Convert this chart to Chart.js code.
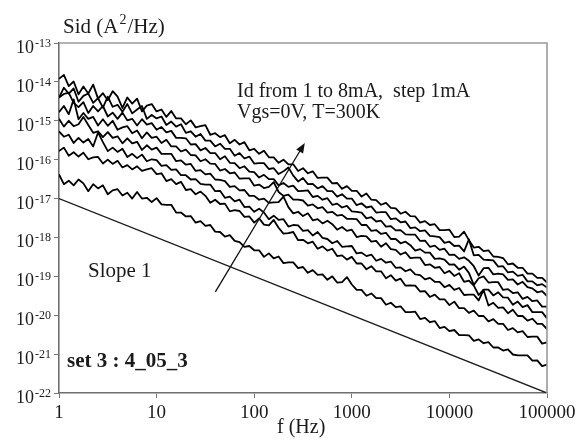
<!DOCTYPE html>
<html><head><meta charset="utf-8">
<script src="https://cdn.jsdelivr.net/npm/chart.js@4.4.1/dist/chart.umd.min.js"></script>
<style>html,body{margin:0;padding:0;background:#fff}canvas{display:block}</style>
</head><body>
<canvas id="c" width="583" height="443" style="width:583px;height:443px"></canvas>
<script>
// Frequency grid (Hz), 20 points per decade
const freqHz = [
1,1.122,1.259,1.413,1.585,1.778,1.995,2.239,2.512,2.818,3.162,3.548,3.981,4.467,5.012,5.623,6.31,7.079,7.943,8.913,
10,11.22,12.59,14.13,15.85,17.78,19.95,22.39,25.12,28.18,31.62,35.48,39.81,44.67,50.12,56.23,63.1,70.79,79.43,89.13,
100,112.2,125.9,141.3,158.5,177.8,199.5,223.9,251.2,281.8,316.2,354.8,398.1,446.7,501.2,562.3,631,707.9,794.3,891.3,
1000,1122,1259,1413,1585,1778,1995,2239,2512,2818,3162,3548,3981,4467,5012,5623,6310,7079,7943,8913,
10000,11220,12590,14130,15850,17780,19950,22390,25120,28180,31620,35480,39810,44670,50120,56230,63100,70790,79430,89130,
100000];

// log10 of Sid (A^2/Hz), one array per drain current
const log10Sid_8mA = [-13.92,-13.82,-14.11,-13.99,-14.32,-14.12,-14.30,-14.07,-14.43,-14.29,
-14.47,-14.24,-14.38,-14.67,-14.40,-14.56,-14.43,-14.76,-14.61,-14.57,
-14.76,-14.71,-14.90,-14.75,-14.94,-14.94,-15.09,-14.99,-15.17,-15.14,
-15.11,-15.36,-15.32,-15.42,-15.37,-15.58,-15.49,-15.61,-15.55,-15.76,
-15.72,-15.85,-15.77,-15.94,-15.94,-16.08,-16.00,-16.12,-16.12,-16.29,
-16.22,-16.35,-16.30,-16.47,-16.46,-16.46,-16.61,-16.60,-16.75,-16.68,
-16.80,-16.80,-16.95,-16.87,-17.03,-17.04,-17.16,-17.11,-17.24,-17.25,
-17.39,-17.34,-17.45,-17.46,-17.62,-17.58,-17.68,-17.66,-17.81,-17.81,
-17.80,-17.99,-17.98,-17.85,-18.07,-18.26,-18.24,-18.35,-18.33,-18.49,
-18.50,-18.53,-18.69,-18.67,-18.78,-18.78,-18.93,-18.93,-19.04,-19.04,
-19.16];
const log10Sid_7mA = [-14.41,-14.15,-14.30,-14.17,-14.51,-14.36,-14.30,-14.54,-14.42,-14.66,
-14.38,-14.64,-14.59,-14.77,-14.57,-14.81,-14.71,-14.62,-14.95,-14.85,
-14.94,-14.89,-15.11,-15.02,-15.15,-15.09,-15.31,-15.27,-15.41,-15.34,
-15.51,-15.51,-15.66,-15.59,-15.72,-15.72,-15.90,-15.83,-15.97,-15.92,
-16.10,-16.09,-16.09,-16.24,-16.22,-16.37,-16.30,-16.20,-16.41,-16.56,
-16.47,-16.63,-16.62,-16.74,-16.68,-16.81,-16.81,-16.95,-16.89,-17.00,
-17.00,-17.17,-17.12,-17.23,-17.20,-17.36,-17.35,-17.35,-17.53,-17.51,
-17.61,-17.59,-17.76,-17.74,-17.84,-17.82,-17.96,-17.97,-17.99,-18.14,
-18.11,-18.22,-18.21,-18.36,-18.05,-18.46,-18.45,-18.57,-18.58,-18.59,
-18.75,-18.74,-18.90,-18.88,-18.99,-18.96,-19.13,-19.13,-19.23,-19.20,
-19.29];
const log10Sid_6mA = [-14.40,-14.31,-14.28,-14.54,-14.65,-14.52,-14.80,-14.62,-14.76,-14.62,
-14.89,-14.79,-14.95,-14.79,-14.99,-14.95,-15.12,-14.96,-15.10,-15.06,
-15.23,-15.16,-15.30,-15.26,-15.44,-15.44,-15.45,-15.61,-15.60,-15.76,
-15.70,-15.83,-15.83,-15.99,-15.91,-16.08,-16.09,-16.22,-16.17,-16.31,
-16.32,-16.46,-16.39,-16.50,-16.50,-16.66,-16.60,-16.70,-16.67,-16.81,
-16.80,-16.79,-16.96,-16.93,-17.03,-16.99,-17.16,-17.13,-17.23,-17.19,
-17.33,-17.34,-17.36,-17.51,-17.48,-17.59,-17.57,-17.72,-17.71,-17.82,
-17.81,-17.92,-17.93,-17.93,-18.09,-18.08,-18.24,-18.21,-18.32,-18.29,
-18.45,-18.44,-18.55,-18.51,-18.60,-18.74,-18.98,-18.79,-18.78,-18.95,
-18.93,-18.95,-19.09,-19.08,-19.21,-19.14,-19.28,-19.31,-19.41,-19.38,
-19.51];
const log10Sid_5mA = [-14.78,-14.62,-14.83,-14.45,-14.96,-14.80,-14.95,-14.90,-15.12,-14.96,
-15.13,-15.00,-15.23,-15.17,-15.14,-15.32,-15.25,-15.45,-15.30,-15.44,
-15.41,-15.57,-15.49,-15.66,-15.66,-15.79,-15.74,-15.88,-15.89,-16.04,
-15.99,-16.10,-16.11,-16.28,-16.24,-16.35,-16.33,-16.49,-16.48,-16.48,
-16.67,-16.64,-16.73,-16.70,-16.58,-16.83,-16.93,-16.90,-17.03,-17.03,
-17.05,-17.18,-17.15,-17.25,-17.22,-17.36,-17.34,-17.44,-17.42,-17.52,
-17.52,-17.53,-17.68,-17.68,-17.83,-17.81,-17.91,-17.88,-18.04,-18.04,
-18.15,-18.11,-18.20,-18.34,-18.30,-18.39,-18.39,-18.55,-18.54,-18.57,
-18.70,-18.69,-18.83,-18.75,-18.91,-19.22,-19.05,-19.00,-19.16,-19.15,
-19.15,-19.35,-19.33,-19.43,-19.41,-19.58,-19.53,-19.64,-19.62,-19.78,
-19.78];
const log10Sid_4mA = [-14.95,-15.15,-15.00,-15.14,-15.09,-14.90,-15.11,-15.31,-15.27,-15.42,
-15.29,-15.44,-15.40,-15.58,-15.45,-15.58,-15.54,-15.75,-15.63,-15.74,
-15.69,-15.85,-15.85,-15.85,-16.04,-16.02,-16.13,-16.11,-16.29,-16.27,
-16.38,-16.36,-16.51,-16.52,-16.55,-16.70,-16.68,-16.79,-16.78,-16.93,
-16.93,-17.03,-17.00,-17.11,-17.10,-17.09,-16.95,-17.22,-17.38,-17.34,
-17.45,-17.38,-17.56,-17.53,-17.64,-17.57,-17.66,-17.80,-17.73,-17.83,
-17.80,-17.99,-17.96,-17.97,-18.11,-18.09,-18.24,-18.15,-18.30,-18.32,
-18.44,-18.38,-18.53,-18.52,-18.52,-18.71,-18.69,-18.78,-18.76,-18.92,
-18.86,-18.99,-18.92,-19.14,-19.11,-19.24,-19.48,-19.34,-19.34,-19.49,
-19.41,-19.54,-19.55,-19.73,-19.65,-19.79,-19.74,-19.92,-19.92,-19.92,
-20.08];
const log10Sid_3mA = [-15.27,-15.41,-15.36,-15.57,-15.44,-15.56,-15.47,-15.66,-15.30,-15.55,
-15.78,-15.69,-15.80,-15.72,-15.93,-15.85,-15.96,-15.87,-16.04,-15.99,
-16.01,-16.16,-16.14,-16.26,-16.25,-16.40,-16.40,-16.51,-16.50,-16.62,
-16.64,-16.64,-16.81,-16.80,-16.98,-16.95,-17.07,-17.03,-17.22,-17.21,
-17.34,-17.26,-17.36,-17.53,-17.44,-17.55,-17.53,-17.72,-17.68,-17.69,
-17.83,-17.81,-17.95,-17.86,-18.01,-18.04,-18.15,-18.09,-18.24,-18.23,
-18.22,-18.41,-18.39,-18.48,-18.44,-18.60,-18.55,-18.65,-18.62,-18.78,
-18.77,-18.87,-18.82,-18.95,-18.97,-19.08,-19.04,-19.14,-19.14,-19.28,
-19.22,-19.35,-19.30,-19.48,-19.47,-19.47,-19.62,-19.35,-19.75,-19.68,
-19.81,-19.80,-19.95,-19.86,-20.02,-20.02,-20.14,-20.09,-20.22,-20.22,
-20.36];
const log10Sid_2mA = [-15.78,-15.69,-15.90,-15.81,-15.92,-15.82,-15.99,-15.94,-15.93,-16.10,
-16.00,-16.11,-16.03,-16.20,-16.14,-16.25,-16.17,-16.29,-16.25,-16.22,
-16.37,-16.35,-16.55,-16.50,-16.63,-16.57,-16.78,-16.76,-16.89,-16.82,
-16.93,-17.11,-17.03,-17.14,-17.13,-17.33,-17.30,-17.32,-17.47,-17.46,
-17.62,-17.51,-17.67,-17.69,-17.55,-17.75,-17.90,-17.89,-17.86,-18.07,
-18.06,-18.15,-18.11,-18.29,-18.23,-18.34,-18.29,-18.48,-18.46,-18.57,
-18.50,-18.67,-18.67,-18.82,-18.74,-18.87,-18.87,-19.05,-18.97,-19.11,
-19.06,-19.24,-19.23,-19.24,-19.39,-19.38,-19.53,-19.47,-19.59,-19.59,
-19.74,-19.65,-19.82,-19.82,-19.94,-19.88,-20.02,-20.02,-20.16,-20.10,
-20.22,-20.22,-20.38,-20.33,-20.44,-20.41,-20.56,-20.55,-20.55,-20.73,
-20.70];
const log10Sid_1mA = [-16.38,-16.63,-16.54,-16.66,-16.51,-16.61,-16.81,-16.63,-16.74,-16.66,
-16.89,-16.79,-16.76,-16.92,-16.85,-17.00,-16.83,-17.00,-16.98,-17.09,
-16.99,-17.15,-17.16,-17.16,-17.36,-17.36,-17.46,-17.45,-17.62,-17.58,
-17.70,-17.68,-17.85,-17.86,-17.98,-17.94,-18.09,-18.12,-18.24,-18.22,
-18.33,-18.33,-18.50,-18.41,-18.54,-18.49,-18.66,-18.64,-18.64,-18.79,
-18.76,-18.91,-18.84,-18.96,-18.95,-19.09,-19.00,-19.16,-19.15,-19.02,
-19.21,-19.35,-19.35,-19.50,-19.44,-19.56,-19.56,-19.73,-19.68,-19.79,
-19.77,-19.92,-19.92,-19.91,-20.10,-20.07,-20.18,-20.15,-20.33,-20.30,
-20.41,-20.38,-20.51,-20.51,-20.52,-20.66,-20.62,-20.72,-20.69,-20.83,
-20.83,-20.91,-20.88,-21.01,-21.03,-21.03,-21.03,-21.17,-21.16,-21.31,
-21.27];

// Slope-1 reference line end points
const slopeF = [1, 100000];
const slopeSid = [1e-17, 1e-22];
// Arrow (tail, head)
const arrowF = [40, 330];
const arrowSid = [4e-20, 2.7e-16];

// Ticks
const xTickValues = [1, 10, 100, 1000, 10000, 100000];
const xTickLabels = ['1', '10', '100', '1000', '10000', '100000'];
const yTickValues = [1e-13, 1e-14, 1e-15, 1e-16, 1e-17, 1e-18, 1e-19, 1e-20, 1e-21, 1e-22];
const yTickExponents = ['-13', '-14', '-15', '-16', '-17', '-18', '-19', '-20', '-21', '-22'];

const curves = [log10Sid_1mA, log10Sid_2mA, log10Sid_3mA, log10Sid_4mA,
                log10Sid_5mA, log10Sid_6mA, log10Sid_7mA, log10Sid_8mA];
const SERIF = '"Liberation Serif", "Times New Roman", Times, serif';

const datasets = [{
  label: 'Slope 1',
  data: slopeF.map((f, i) => ({ x: f, y: slopeSid[i] })),
  showLine: true, borderColor: '#1a1a1a', borderWidth: 1.4, pointRadius: 0
}];
curves.forEach((c, k) => datasets.push({
  label: 'Id=' + (k + 1) + 'mA',
  data: freqHz.map((f, i) => ({ x: f, y: Math.pow(10, c[i]) })),
  showLine: true, borderColor: '#000', borderWidth: 1.8, pointRadius: 0,
  borderJoinStyle: 'round'
}));

const decor = {
  id: 'decor',
  afterDraw(chart) {
    const ctx = chart.ctx, a = chart.chartArea;
    const xs = chart.scales.x, ys = chart.scales.y;
    ctx.save();
    // top and right frame
    ctx.strokeStyle = '#9a9a9a'; ctx.lineWidth = 1.6;
    ctx.beginPath();
    ctx.moveTo(a.left, a.top); ctx.lineTo(a.right, a.top); ctx.lineTo(a.right, a.bottom);
    ctx.stroke();
    // arrow
    const x0 = xs.getPixelForValue(arrowF[0]), y0 = ys.getPixelForValue(arrowSid[0]);
    const x1 = xs.getPixelForValue(arrowF[1]), y1 = ys.getPixelForValue(arrowSid[1]);
    const ang = Math.atan2(y1 - y0, x1 - x0);
    ctx.strokeStyle = '#111'; ctx.fillStyle = '#111'; ctx.lineWidth = 1.3;
    ctx.beginPath(); ctx.moveTo(x0, y0);
    ctx.lineTo(x1 - 6 * Math.cos(ang), y1 - 6 * Math.sin(ang)); ctx.stroke();
    ctx.beginPath();
    ctx.moveTo(x1, y1);
    ctx.lineTo(x1 - 10 * Math.cos(ang) + 4 * Math.sin(ang), y1 - 10 * Math.sin(ang) - 4 * Math.cos(ang));
    ctx.lineTo(x1 - 10 * Math.cos(ang) - 4 * Math.sin(ang), y1 - 10 * Math.sin(ang) + 4 * Math.cos(ang));
    ctx.closePath(); ctx.fill();
    // y tick labels 10^n
    ctx.fillStyle = '#1a1a1a'; ctx.textBaseline = 'alphabetic'; ctx.textAlign = 'left';
    yTickValues.forEach((v, i) => {
      const py = ys.getPixelForValue(v);
      ctx.font = '18px ' + SERIF;
      const w10 = ctx.measureText('10').width;
      ctx.font = '12px ' + SERIF;
      const we = ctx.measureText(yTickExponents[i]).width;
      const xr = 51;
      ctx.font = '18px ' + SERIF;
      ctx.fillText('10', xr - we - w10 - 1, py + 10);
      ctx.font = '12px ' + SERIF;
      ctx.fillText(yTickExponents[i], xr - we, py + 4);
    });
    // axis titles
    ctx.font = '21px ' + SERIF;
    let tx = 63;
    ctx.fillText('Sid (A', tx, 33); tx += ctx.measureText('Sid (A').width;
    ctx.font = '14px ' + SERIF;
    ctx.fillText('2', tx + 1, 24); tx += ctx.measureText('2').width + 2;
    ctx.font = '21px ' + SERIF;
    ctx.fillText('/Hz)', tx, 33);
    ctx.font = '20px ' + SERIF;
    ctx.fillText('f (Hz)', 277, 433);
    // annotations
    ctx.font = '20px ' + SERIF;
    ctx.fillText('Id from 1 to 8mA,  step 1mA', 237, 97);
    ctx.fillText('Vgs=0V, T=300K', 237, 118);
    ctx.font = '21px ' + SERIF;
    ctx.fillText('Slope 1', 88, 277);
    ctx.font = 'bold 21px ' + SERIF;
    ctx.fillText('set 3 : 4_05_3', 67, 367);
    ctx.restore();
  }
};

new Chart(document.getElementById('c'), {
  type: 'scatter',
  data: { datasets },
  options: {
    responsive: false, animation: false, devicePixelRatio: 1,
    layout: { padding: { top: 43, right: 36, left: 0, bottom: 0 } },
    plugins: { legend: { display: false }, tooltip: { enabled: false } },
    elements: { line: { tension: 0 }, point: { radius: 0 } },
    scales: {
      x: {
        type: 'logarithmic', min: 1, max: 100000,
        afterBuildTicks(s) { s.ticks = xTickValues.map(v => ({ value: v })); },
        afterFit(s) { s.height = 50; },
        ticks: {
          callback: (v, i) => xTickLabels[i],
          font: { family: SERIF, size: 19 }, color: '#1a1a1a',
          padding: 4, maxRotation: 0, autoSkip: false
        },
        grid: { display: true, drawOnChartArea: false, drawTicks: true, tickLength: 5, color: '#777', lineWidth: 1 },
        border: { display: true, color: '#6e6e6e', width: 1.6 }
      },
      y: {
        type: 'logarithmic', min: 1e-22, max: 1e-13,
        afterBuildTicks(s) { s.ticks = yTickValues.map(v => ({ value: v })); },
        afterFit(s) { s.width = 59; },
        ticks: { display: false },
        grid: { display: true, drawOnChartArea: false, drawTicks: true, tickLength: 5, color: '#777', lineWidth: 1 },
        border: { display: true, color: '#6e6e6e', width: 1.6 }
      }
    }
  },
  plugins: [decor]
});
</script>
</body></html>
